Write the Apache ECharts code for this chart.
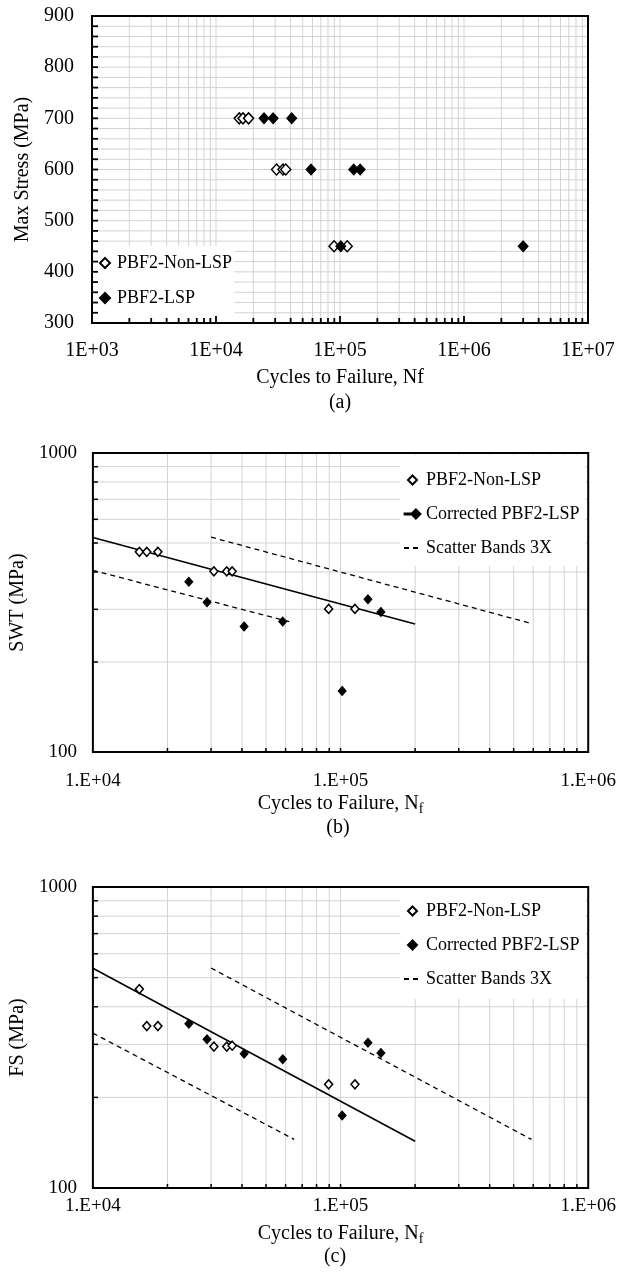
<!DOCTYPE html>
<html>
<head>
<meta charset="utf-8">
<script src="https://cdn.jsdelivr.net/npm/echarts@6/dist/echarts.min.js"></script>
<style>
html, body { margin: 0; padding: 0; background: #fff; }
#main { width: 619px; height: 1280px; }
</style>
</head>
<body>
<div id="main"></div>
<script>
'use strict';
// cycles to failure of each specimen
var nfNonLsp = [15400, 16500, 18300, 30800, 34700, 36500, 89500, 114300];
var nfLsp = [24400, 28900, 40800, 58400, 129000, 145500, 101500, 3000000];
// (a) max stress, MPa
var stressNonLsp = [700, 700, 700, 600, 600, 600, 450, 450];
var stressLsp = [700, 700, 700, 600, 600, 600, 450, 450];
// (b) SWT, MPa  (runout not plotted)
var swtNonLsp = [467, 467, 467, 402, 402, 402, 301, 301];
var swtLsp = [371, 317, 263, 273, 324, 294, 160];
// (c) FS, MPa
var fsNonLsp = [458, 345, 345, 295, 295, 297, 221, 221];
var fsLsp = [351, 312, 279, 268, 304, 281, 174];

// fit line and 3x scatter band end points
var swtFitNf = [10000, 200000], swtFit = [522, 268];
var swtUpNf = [30000, 580000], swtUp = [523, 270];
var swtLoNf = [10000, 64000], swtLo = [405, 271];
var fsFitNf = [10000, 200000], fsFit = [537, 143];
var fsUpNf = [30000, 590000], fsUp = [538, 145];
var fsLoNf = [10000, 65000], fsLo = [327, 145];

// tick labels
var xLabelsA = ['1E+03', '1E+04', '1E+05', '1E+06', '1E+07'];
var xLabelsBC = ['1.E+04', '1.E+05', '1.E+06'];
var yLabelsBC = ['100', '1000'];

var FONT = '"Liberation Serif", "Times New Roman", serif';
var DIAMOND = 'path://M4,0L8,4L4,8L0,4Z';
var LINE_DIAMOND = 'path://M0,3.6H6V4.4H0Z M10,0L14,4L10,8L6,4Z';

function pairs(xs, ys) {
	var out = [];
	for (var i = 0; i < ys.length; i++) out.push([xs[i], ys[i]]);
	return out;
}
function logMinors(e0, e1) {
	var out = [];
	for (var e = e0; e < e1; e++) {
		for (var m = 2; m <= 9; m++) out.push(m * Math.pow(10, e));
	}
	return out;
}
function steps(a, b, d) {
	var out = [];
	for (var v = a; v <= b; v += d) out.push(v);
	return out;
}
function lg(v) { return Math.round(Math.log(v) / Math.LN10); }

// light grid lines, drawn under the legends
function gridLines(gi, xr, yr, vx, hy) {
	return {
		type: 'custom', xAxisIndex: gi, yAxisIndex: gi, z: 1, silent: true,
		data: [[xr[0], yr[0]]],
		renderItem: function (p, api) {
			var kids = [];
			vx.forEach(function (v) {
				var a = api.coord([v, yr[0]]), b = api.coord([v, yr[1]]);
				kids.push({ type: 'line', shape: { x1: a[0], y1: a[1], x2: b[0], y2: b[1] }, style: { stroke: '#d2d2d2', lineWidth: 1 } });
			});
			hy.forEach(function (v) {
				var a = api.coord([xr[0], v]), b = api.coord([xr[1], v]);
				kids.push({ type: 'line', shape: { x1: a[0], y1: a[1], x2: b[0], y2: b[1] }, style: { stroke: '#d2d2d2', lineWidth: 1 } });
			});
			return { type: 'group', children: kids };
		}
	};
}
// inward ticks on bottom and left axes, drawn above the legends
function tickLines(gi, xr, yr, bx, bxLen, bigX, bigLen, ly, lyLen, w) {
	return {
		type: 'custom', xAxisIndex: gi, yAxisIndex: gi, z: 10, silent: true,
		data: [[xr[0], yr[0]]],
		renderItem: function (p, api) {
			var kids = [];
			bx.forEach(function (v) {
				var a = api.coord([v, yr[0]]);
				var len = bigX.indexOf(v) >= 0 ? bigLen : bxLen;
				kids.push({ type: 'line', shape: { x1: a[0], y1: a[1], x2: a[0], y2: a[1] - len }, style: { stroke: '#000', lineWidth: w } });
			});
			ly.forEach(function (v) {
				var a = api.coord([xr[0], v]);
				kids.push({ type: 'line', shape: { x1: a[0], y1: a[1], x2: a[0] + lyLen, y2: a[1] }, style: { stroke: '#000', lineWidth: w } });
			});
			return { type: 'group', children: kids };
		}
	};
}

var hollow = { color: '#fff', borderColor: '#000', borderWidth: 1.5, opacity: 1 };
var solid = { color: '#000', borderColor: '#000', borderWidth: 1, opacity: 1 };
var txt = { color: '#000', fontFamily: FONT, fontSize: 20 };
var subName = {
	color: '#000', fontFamily: FONT, fontSize: 20, lineHeight: 24,
	rich: { sub: { fontFamily: FONT, fontSize: 14, lineHeight: 14, verticalAlign: 'bottom', color: '#000' } }
};

function logX(gi, labels, e0, e1, margin, gap) {
	return {
		gridIndex: gi, type: 'log', logBase: 10, min: Math.pow(10, e0), max: Math.pow(10, e1),
		axisLine: { show: false }, axisTick: { show: false }, splitLine: { show: false },
		axisLabel: {
			margin: margin, color: '#000', fontFamily: FONT, fontSize: gi === 0 ? 20 : 19,
			formatter: function (v) { return labels[lg(v) - e0]; }
		},
		name: gi === 0 ? 'Cycles to Failure, Nf' : 'Cycles to Failure, N{sub|f}',
		nameLocation: 'middle', nameGap: gap, nameTextStyle: subName
	};
}
function logY(gi, name, gap) {
	return {
		gridIndex: gi, type: 'log', logBase: 10, min: 100, max: 1000,
		axisLine: { show: false }, axisTick: { show: false }, splitLine: { show: false },
		axisLabel: {
			margin: 16, color: '#000', fontFamily: FONT, fontSize: 19,
			formatter: function (v) { return yLabelsBC[lg(v) - 2]; }
		},
		name: name, nameLocation: 'middle', nameGap: gap, nameTextStyle: txt
	};
}
function legendBox(top, lspIcon, pad) {
	return {
		orient: 'vertical', left: 400, top: top, selectedMode: false, symbolKeepAspect: true,
		data: [
			{ name: 'PBF2-Non-LSP', icon: DIAMOND },
			{ name: 'Corrected PBF2-LSP', icon: lspIcon },
			{ name: 'Scatter Bands 3X', itemStyle: { color: 'rgba(0,0,0,0)', borderColor: 'rgba(0,0,0,0)', borderWidth: 0 } }
		],
		backgroundColor: '#fff', padding: pad, itemGap: 14, itemWidth: 17, itemHeight: 9,
		textStyle: { color: '#000', fontFamily: FONT, fontSize: 18, lineHeight: 20 }
	};
}
function fitLine(gi, name, xs, ys, dashed) {
	return {
		type: 'line', name: name, xAxisIndex: gi, yAxisIndex: gi, data: pairs(xs, ys),
		symbol: 'none', silent: true, z: 3, color: '#000',
		lineStyle: { color: '#000', width: dashed ? 1.3 : 1.6, type: dashed ? [5, 4] : 'solid' }
	};
}
function dots(gi, name, xs, ys, style, size) {
	return {
		type: 'scatter', name: name, xAxisIndex: gi, yAxisIndex: gi, data: pairs(xs, ys),
		symbol: 'diamond', symbolSize: size, itemStyle: style, z: 5
	};
}

var chart = echarts.init(document.getElementById('main'), null, { renderer: 'canvas' });

chart.setOption({
	animation: false,
	backgroundColor: '#fff',
	grid: [
		{ left: 92, top: 16, width: 496, height: 307, show: true, borderColor: '#000', borderWidth: 2, z: 10 },
		{ left: 84, top: 453, width: 508, height: 299, show: true, borderColor: '#000', borderWidth: 2, z: 10 },
		{ left: 80, top: 887, width: 510, height: 301, show: true, borderColor: '#000', borderWidth: 2, z: 10 }
	],
	xAxis: [
		logX(0, xLabelsA, 3, 7, 18, 43),
		logX(1, xLabelsBC, 4, 6, 20, 39),
		logX(2, xLabelsBC, 4, 6, 9, 34)
	],
	yAxis: [
		{
			gridIndex: 0, type: 'value', min: 300, max: 900, interval: 100,
			axisLine: { show: false }, axisTick: { show: false }, splitLine: { show: false },
			axisLabel: { margin: 18, color: '#000', fontFamily: FONT, fontSize: 20 },
			name: 'Max Stress (MPa)', nameLocation: 'middle', nameGap: 53, nameTextStyle: txt
		},
		logY(1, 'SWT (MPa)', 40),
		logY(2, 'FS (MPa)', 36)
	],
	legend: [
		{
			orient: 'vertical', left: 93, top: 246, selectedMode: false, symbolKeepAspect: true,
			data: [{ name: 'PBF2-Non-LSP', icon: DIAMOND }, { name: 'PBF2-LSP', icon: DIAMOND }],
			backgroundColor: '#fff', padding: [7, 2, 15, 6], itemGap: 15, itemWidth: 14, itemHeight: 10,
			textStyle: { color: '#000', fontFamily: FONT, fontSize: 18, lineHeight: 20 }
		},
		legendBox(455, LINE_DIAMOND, [15, 6, 8, 3]),
		legendBox(888, DIAMOND, [13, 6, 10, 3])
	],
	graphic: [
		{ type: 'text', x: 340, y: 403, style: { text: '(a)', fill: '#000', font: '20px ' + FONT, align: 'center', verticalAlign: 'middle' } },
		{ type: 'text', x: 338, y: 828, style: { text: '(b)', fill: '#000', font: '20px ' + FONT, align: 'center', verticalAlign: 'middle' } },
		{ type: 'text', x: 335, y: 1257, style: { text: '(c)', fill: '#000', font: '20px ' + FONT, align: 'center', verticalAlign: 'middle' } }
	],
	series: [
		gridLines(0, [1e3, 1e7], [300, 900], logMinors(3, 7).concat([1e4, 1e5, 1e6]), steps(320, 880, 20)),
		tickLines(0, [1e3, 1e7], [300, 900], logMinors(3, 7).concat([1e4, 1e5, 1e6]), 5, [1e4, 1e5, 1e6], 7, steps(320, 880, 20), 6, 1.8),
		dots(0, 'PBF2-Non-LSP', nfNonLsp, stressNonLsp, hollow, [10, 11]),
		dots(0, 'PBF2-LSP', nfLsp, stressLsp, solid, [10, 11]),

		gridLines(1, [1e4, 1e6], [100, 1000], logMinors(4, 6).concat([1e5]), steps(200, 900, 100)),
		tickLines(1, [1e4, 1e6], [100, 1000], logMinors(4, 6).concat([1e5]), 4, [1e5], 4, steps(200, 900, 100), 5, 1.5),
		fitLine(1, '', swtFitNf, swtFit, false),
		fitLine(1, 'Scatter Bands 3X', swtUpNf, swtUp, true),
		fitLine(1, 'Scatter Bands 3X', swtLoNf, swtLo, true),
		dots(1, 'PBF2-Non-LSP', nfNonLsp, swtNonLsp, hollow, [8, 9]),
		dots(1, 'Corrected PBF2-LSP', nfLsp.slice(0, 7), swtLsp, solid, [8, 9]),

		gridLines(2, [1e4, 1e6], [100, 1000], logMinors(4, 6).concat([1e5]), steps(200, 900, 100)),
		tickLines(2, [1e4, 1e6], [100, 1000], logMinors(4, 6).concat([1e5]), 4, [1e5], 4, steps(200, 900, 100), 5, 1.5),
		fitLine(2, '', fsFitNf, fsFit, false),
		fitLine(2, 'Scatter Bands 3X', fsUpNf, fsUp, true),
		fitLine(2, 'Scatter Bands 3X', fsLoNf, fsLo, true),
		dots(2, 'PBF2-Non-LSP', nfNonLsp, fsNonLsp, hollow, [8, 9]),
		dots(2, 'Corrected PBF2-LSP', nfLsp.slice(0, 7), fsLsp, solid, [8, 9])
	]
});
</script>
</body>
</html>
